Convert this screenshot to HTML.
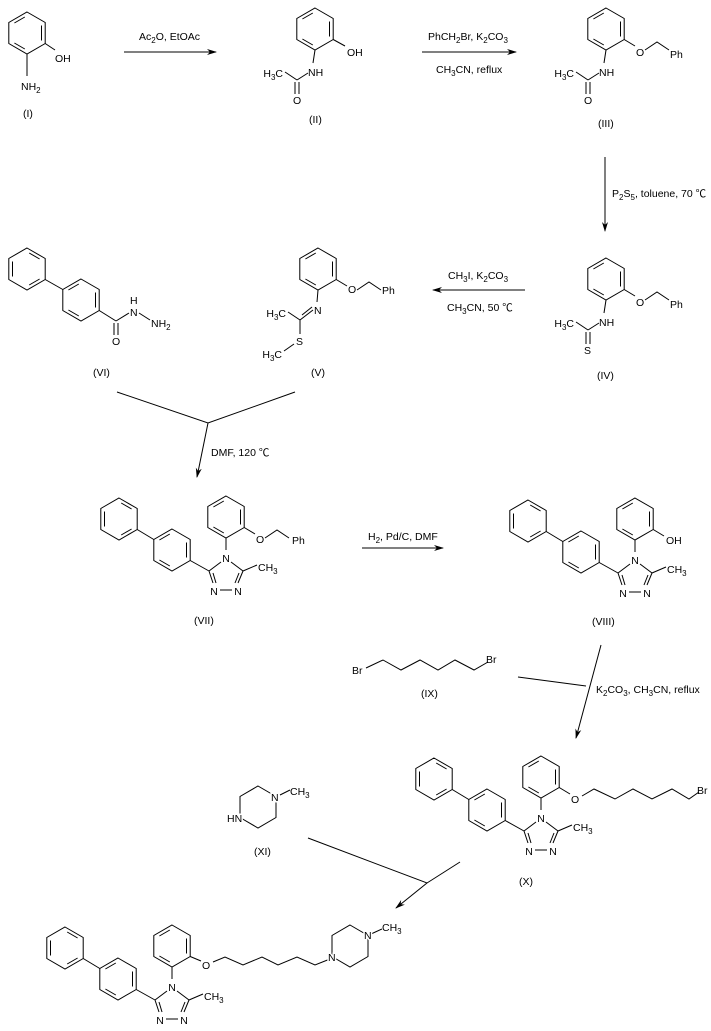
<!DOCTYPE html>
<html><head><meta charset="utf-8"><style>
html,body{margin:0;padding:0;background:#fff}
svg{display:block}
text{font-family:"Liberation Sans","Noto Sans CJK SC",sans-serif;font-size:10.5px;fill:#000}
.l{paint-order:stroke;stroke:#fff;stroke-width:3px}
</style></head><body>
<svg width="711" height="1031" viewBox="0 0 711 1031" xmlns="http://www.w3.org/2000/svg">
<defs>
<g id="hx" fill="none" stroke="#000" stroke-width="1">
<polygon points="0,-21 18.2,-10.5 18.2,10.5 0,21 -18.2,10.5 -18.2,-10.5"/>
<line x1="14.5" y1="-7.5" x2="14.5" y2="7.5"/>
<line x1="-2.2" y1="16" x2="-12.6" y2="10"/>
<line x1="-12.6" y1="-10" x2="-2.2" y2="-16"/>
</g>
<g id="hx2" fill="none" stroke="#000" stroke-width="1">
<polygon points="0,-21 18.2,-10.5 18.2,10.5 0,21 -18.2,10.5 -18.2,-10.5"/>
<line x1="2.2" y1="-16" x2="12.6" y2="-10"/>
<line x1="2.2" y1="16" x2="12.6" y2="10"/>
<line x1="-14.5" y1="-7.5" x2="-14.5" y2="7.5"/>
</g>
<marker id="ah" markerWidth="10" markerHeight="8" refX="9" refY="4" orient="auto" markerUnits="userSpaceOnUse">
<path d="M0,1 L10,4 L0,7 L3,4 Z" fill="#000"/>
</marker>
<g id="core">
<use href="#hx"/>
<use href="#hx" x="-54" y="33"/>
<use href="#hx2" x="-107" y="2"/>
<g stroke="#000" stroke-width="1" fill="none">
<line x1="-88.8" y1="12.5" x2="-72.2" y2="22.5"/>
<line x1="-35.8" y1="43.5" x2="-17" y2="54"/>
<line x1="0" y1="21" x2="0" y2="33"/>
<line x1="5" y1="45" x2="17" y2="54"/>
<line x1="-5" y1="45" x2="-17" y2="54"/>
<line x1="-17" y1="54" x2="-13" y2="66"/>
<line x1="-13" y1="56" x2="-10" y2="66"/>
<line x1="17" y1="54" x2="12" y2="66"/>
<line x1="13" y1="56" x2="9" y2="66"/>
<line x1="-6" y1="73" x2="6" y2="73"/>
<line x1="17" y1="54" x2="31" y2="48"/>
</g>
<text x="0" y="45" text-anchor="middle">N</text>
<text x="-12" y="78" text-anchor="middle">N</text>
<text x="12" y="78" text-anchor="middle">N</text>
<text x="32" y="54">CH<tspan font-size="8" dy="3">3</tspan></text>
</g>
<g id="amid" stroke="#000" stroke-width="1" fill="none">
<line x1="0" y1="21" x2="-2" y2="34"/>
<line x1="-7" y1="44" x2="-18" y2="51"/>
<line x1="-18" y1="51" x2="-30" y2="43"/>
<line x1="-20" y1="53" x2="-20" y2="65"/>
<line x1="-16" y1="53" x2="-16" y2="65"/>
</g>
<g id="obn" stroke="#000" stroke-width="1" fill="none">
<line x1="18.2" y1="10.5" x2="29" y2="17"/>
<polyline points="39,21 51,13 63,21"/>
</g>
</defs>

<use href="#hx" x="27" y="33"/>
<g stroke="#000" fill="none"><line x1="45.2" y1="43.5" x2="55" y2="50"/><line x1="27" y1="54" x2="27" y2="76"/></g>
<text x="55" y="62">OH</text>
<text x="21" y="90">NH<tspan font-size="8" dy="3">2</tspan></text>
<text x="23" y="117">(I)</text>

<line x1="124" y1="52" x2="216" y2="52" stroke="#000" marker-end="url(#ah)"/>
<text x="139" y="40">Ac<tspan font-size="8" dy="3">2</tspan><tspan dy="-3">O, EtOAc</tspan></text>

<g transform="translate(315,29)">
<use href="#hx"/><use href="#amid"/>
<line x1="18.2" y1="10.5" x2="30" y2="17" stroke="#000"/>
<text x="32" y="27">OH</text>
<text x="-7" y="47">NH</text>
<text x="-32" y="48" text-anchor="end">H<tspan font-size="8" dy="3">3</tspan><tspan dy="-3">C</tspan></text>
<text x="-22" y="75">O</text>
<text x="-6" y="94">(II)</text>
</g>

<line x1="422" y1="52" x2="516" y2="52" stroke="#000" marker-end="url(#ah)"/>
<text x="428" y="40">PhCH<tspan font-size="8" dy="3">2</tspan><tspan dy="-3">Br, K</tspan><tspan font-size="8" dy="3">2</tspan><tspan dy="-3">CO</tspan><tspan font-size="8" dy="3">3</tspan></text>
<text x="436" y="73">CH<tspan font-size="8" dy="3">3</tspan><tspan dy="-3">CN, reflux</tspan></text>

<g transform="translate(606,29)">
<use href="#hx"/><use href="#amid"/><use href="#obn"/>
<text x="30" y="27">O</text><text x="64" y="29">Ph</text>
<text x="-7" y="47">NH</text>
<text x="-32" y="48" text-anchor="end">H<tspan font-size="8" dy="3">3</tspan><tspan dy="-3">C</tspan></text>
<text x="-22" y="75">O</text>
<text x="-8" y="98">(III)</text>
</g>

<line x1="605" y1="157" x2="605" y2="231" stroke="#000" marker-end="url(#ah)"/>
<text x="612" y="197">P<tspan font-size="8" dy="3">2</tspan><tspan dy="-3">S</tspan><tspan font-size="8" dy="3">5</tspan><tspan dy="-3">, toluene, 70 ℃</tspan></text>

<g transform="translate(606,279)">
<use href="#hx"/><use href="#amid"/><use href="#obn"/>
<text x="30" y="27">O</text><text x="64" y="29">Ph</text>
<text x="-7" y="47">NH</text>
<text x="-32" y="48" text-anchor="end">H<tspan font-size="8" dy="3">3</tspan><tspan dy="-3">C</tspan></text>
<text x="-22" y="75">S</text>
<text x="-9" y="100">(IV)</text>
</g>

<line x1="525" y1="290" x2="433" y2="290" stroke="#000" marker-end="url(#ah)"/>
<text x="448" y="279">CH<tspan font-size="8" dy="3">3</tspan><tspan dy="-3">I, K</tspan><tspan font-size="8" dy="3">2</tspan><tspan dy="-3">CO</tspan><tspan font-size="8" dy="3">3</tspan></text>
<text x="447" y="311">CH<tspan font-size="8" dy="3">3</tspan><tspan dy="-3">CN, 50 ℃</tspan></text>

<g transform="translate(318,269)">
<use href="#hx"/><use href="#obn"/>
<g stroke="#000" fill="none">
<line x1="0" y1="21" x2="-1" y2="33"/>
<line x1="-5" y1="41" x2="-18" y2="51"/>
<line x1="-16" y1="46" x2="-6" y2="38"/>
<line x1="-18" y1="51" x2="-30" y2="43"/>
<line x1="-18" y1="51" x2="-18" y2="65"/>
<line x1="-24" y1="75" x2="-34" y2="82"/>
</g>
<text x="30" y="24">O</text><text x="64" y="25">Ph</text>
<text x="-4" y="45">N</text>
<text x="-32" y="48" text-anchor="end">H<tspan font-size="8" dy="3">3</tspan><tspan dy="-3">C</tspan></text>
<text x="-22" y="76">S</text>
<text x="-36" y="89" text-anchor="end">H<tspan font-size="8" dy="3">3</tspan><tspan dy="-3">C</tspan></text>
<text x="-7" y="107">(V)</text>
</g>

<use href="#hx2" x="27" y="269"/>
<use href="#hx" x="81" y="300"/>
<g stroke="#000" fill="none">
<line x1="45.2" y1="279.5" x2="62.8" y2="289.5"/>
<line x1="99.2" y1="310.5" x2="116" y2="321"/>
<line x1="114" y1="323" x2="114" y2="335"/>
<line x1="118" y1="323" x2="118" y2="335"/>
<line x1="116" y1="321" x2="129" y2="313"/>
<line x1="139" y1="313" x2="150" y2="320"/>
</g>
<text x="112" y="345">O</text>
<text x="130" y="304">H</text>
<text x="130" y="316">N</text>
<text x="151" y="327">NH<tspan font-size="8" dy="3">2</tspan></text>
<text x="93" y="376">(VI)</text>

<g stroke="#000" fill="none">
<polyline points="117,392 208,423 295,392"/>
<line x1="208" y1="423" x2="197" y2="477" marker-end="url(#ah)"/>
</g>
<text x="211" y="456">DMF, 120 ℃</text>

<g transform="translate(226,517)">
<use href="#core"/><use href="#obn"/>
<text x="30" y="26">O</text><text x="66" y="27">Ph</text>
<text x="-32" y="107">(VII)</text>
</g>

<line x1="362" y1="548" x2="443" y2="548" stroke="#000" marker-end="url(#ah)"/>
<text x="368" y="540">H<tspan font-size="8" dy="3">2</tspan><tspan dy="-3">, Pd/C, DMF</tspan></text>

<g transform="translate(635,519)">
<use href="#core"/>
<line x1="18.2" y1="10.5" x2="29" y2="17" stroke="#000"/>
<text x="31" y="25">OH</text>
<text x="-43" y="106">(VIII)</text>
</g>

<text x="352" y="674">Br</text>
<polyline points="366,668 383,660 401,670 420,660 438,670 455,660 474,670 488,662" stroke="#000" fill="none"/>
<text x="486" y="663">Br</text>
<text x="421" y="697">(IX)</text>

<g stroke="#000" fill="none">
<polyline points="518,677 586,686"/>
<line x1="601" y1="645" x2="576" y2="738" marker-end="url(#ah)"/>
</g>
<text x="596" y="693">K<tspan font-size="8" dy="3">2</tspan><tspan dy="-3">CO</tspan><tspan font-size="8" dy="3">3</tspan><tspan dy="-3">, CH</tspan><tspan font-size="8" dy="3">3</tspan><tspan dy="-3">CN, reflux</tspan></text>

<g transform="translate(541,777)">
<use href="#core"/>
<g stroke="#000" fill="none">
<line x1="18.2" y1="10.5" x2="29" y2="17"/>
<polyline points="41,19 53,12 74,22 92,12 111,22 131,12 148,22 158,15"/>
</g>
<text x="30" y="26">O</text>
<text x="156" y="17">Br</text>
<text x="-22" y="108">(X)</text>
</g>

<g stroke="#000" fill="none">
<polygon points="258,786 276,796.5 276,817.5 258,828 240,817.5 240,796.5"/>
<line x1="280" y1="795" x2="290" y2="790"/>
</g>
<text x="271" y="801" class="l">N</text>
<text x="227" y="822" class="l">HN</text>
<text x="290" y="795">CH<tspan font-size="8" dy="3">3</tspan></text>
<text x="254" y="855">(XI)</text>

<g stroke="#000" fill="none">
<polyline points="308,838 427,883 460,862"/>
<line x1="427" y1="883" x2="396" y2="908" marker-end="url(#ah)"/>
</g>

<g transform="translate(172,946)">
<use href="#core"/>
<g stroke="#000" fill="none">
<line x1="18.2" y1="10.5" x2="29" y2="15"/>
<polyline points="41,16 53,11 71,19 90,11 106,19 125,11 143,19 158,13"/>
<polygon points="178,-21 196,-10.5 196,10.5 178,21 160,10.5 160,-10.5"/>
<line x1="199" y1="-12" x2="210" y2="-17"/>
</g>
<text x="30" y="23" class="l">O</text>
<text x="156" y="15" class="l">N</text>
<text x="192" y="-7" class="l">N</text>
<text x="210" y="-15">CH<tspan font-size="8" dy="3">3</tspan></text>
</g>
</svg>
</body></html>
